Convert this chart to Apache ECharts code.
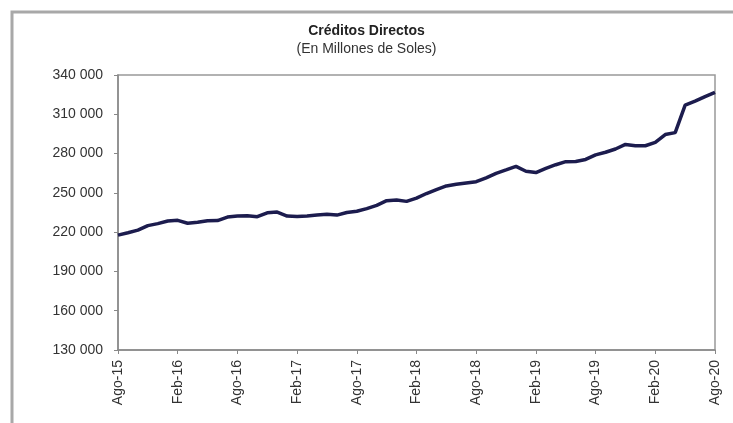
<!DOCTYPE html>
<html>
<head>
<meta charset="utf-8">
<script src="https://cdn.jsdelivr.net/npm/echarts@6/dist/echarts.min.js"></script>
<style>
html,body{margin:0;padding:0;background:#fff;}
#chart{width:733px;height:423px;}
</style>
</head>
<body>
<div id="chart"></div>
<script>
var titleText = 'Créditos Directos';
var subtitleText = '(En Millones de Soles)';
var months = ['Ago','Set','Oct','Nov','Dic','Ene','Feb','Mar','Abr','May','Jun','Jul'];
var startYear = 15;
var categories = [];
(function(){
  var y = startYear;
  for (var i = 0; i <= 60; i++) {
    var m = months[i % 12];
    if (m === 'Ene') y++;
    categories.push(m + '-' + y);
  }
})();
var creditos = [
  217700, 219500, 221500, 225000, 226500, 228500, 229000, 226800, 227500, 228700,
  228800, 231500, 232300, 232500, 231800, 234800, 235300, 232300, 232000, 232400,
  233000, 233600, 233000, 235000, 236000, 238000, 240500, 244000, 244500, 243500,
  246000, 249500, 252500, 255300, 256500, 257500, 258500, 261500, 264900, 267500,
  270200, 266500, 265500, 268700, 271500, 273800, 274000, 275500, 279000, 281000,
  283500, 287000, 286000, 286000, 288500, 294500, 296000, 317000, 320000, 323500,
  326800
];
var yMin = 130000, yMax = 340000, yStep = 30000;

var chart = echarts.init(document.getElementById('chart'));
var font = 'Liberation Sans, Arial, sans-serif';
chart.setOption({
  animation: false,
  backgroundColor: '#fff',
  graphic: [{
    type: 'rect',
    shape: { x: 12, y: 12, width: 800, height: 500 },
    style: { fill: 'none', stroke: '#a8a8a8', lineWidth: 3 },
    silent: true
  }],
  title: [{
    text: titleText,
    left: 'center',
    top: 19,
    textStyle: { fontFamily: font, fontSize: 14, fontWeight: 'bold', color: '#222' }
  }, {
    text: subtitleText,
    left: 'center',
    top: 37,
    textStyle: { fontFamily: font, fontSize: 14, fontWeight: 'normal', color: '#333' }
  }],
  grid: {
    left: 118, right: 18, top: 75, bottom: 73,
    show: true, borderColor: '#999', borderWidth: 1.5
  },
  xAxis: {
    type: 'category',
    data: categories,
    boundaryGap: false,
    axisLine: { lineStyle: { color: '#888', width: 1.5 } },
    axisTick: { show: true, interval: 5, length: 4, lineStyle: { color: '#888' } },
    axisLabel: {
      interval: 5, rotate: 90, margin: 10,
      fontFamily: font, fontSize: 14, color: '#333'
    },
    splitLine: { show: false }
  },
  yAxis: {
    type: 'value',
    min: yMin, max: yMax, interval: yStep,
    axisLine: { show: true, lineStyle: { color: '#888', width: 1.5 } },
    axisTick: { show: true, length: 4, lineStyle: { color: '#888' } },
    axisLabel: {
      margin: 15, fontFamily: font, fontSize: 14, color: '#333',
      formatter: function (v) {
        return String(v).replace(/\B(?=(\d{3})+(?!\d))/g, ' ');
      }
    },
    splitLine: { show: false }
  },
  series: [{
    type: 'line',
    data: creditos,
    showSymbol: false,
    lineStyle: { color: '#1c1c4e', width: 3.5 },
    itemStyle: { color: '#1c1c4e' }
  }]
});
</script>
</body>
</html>
